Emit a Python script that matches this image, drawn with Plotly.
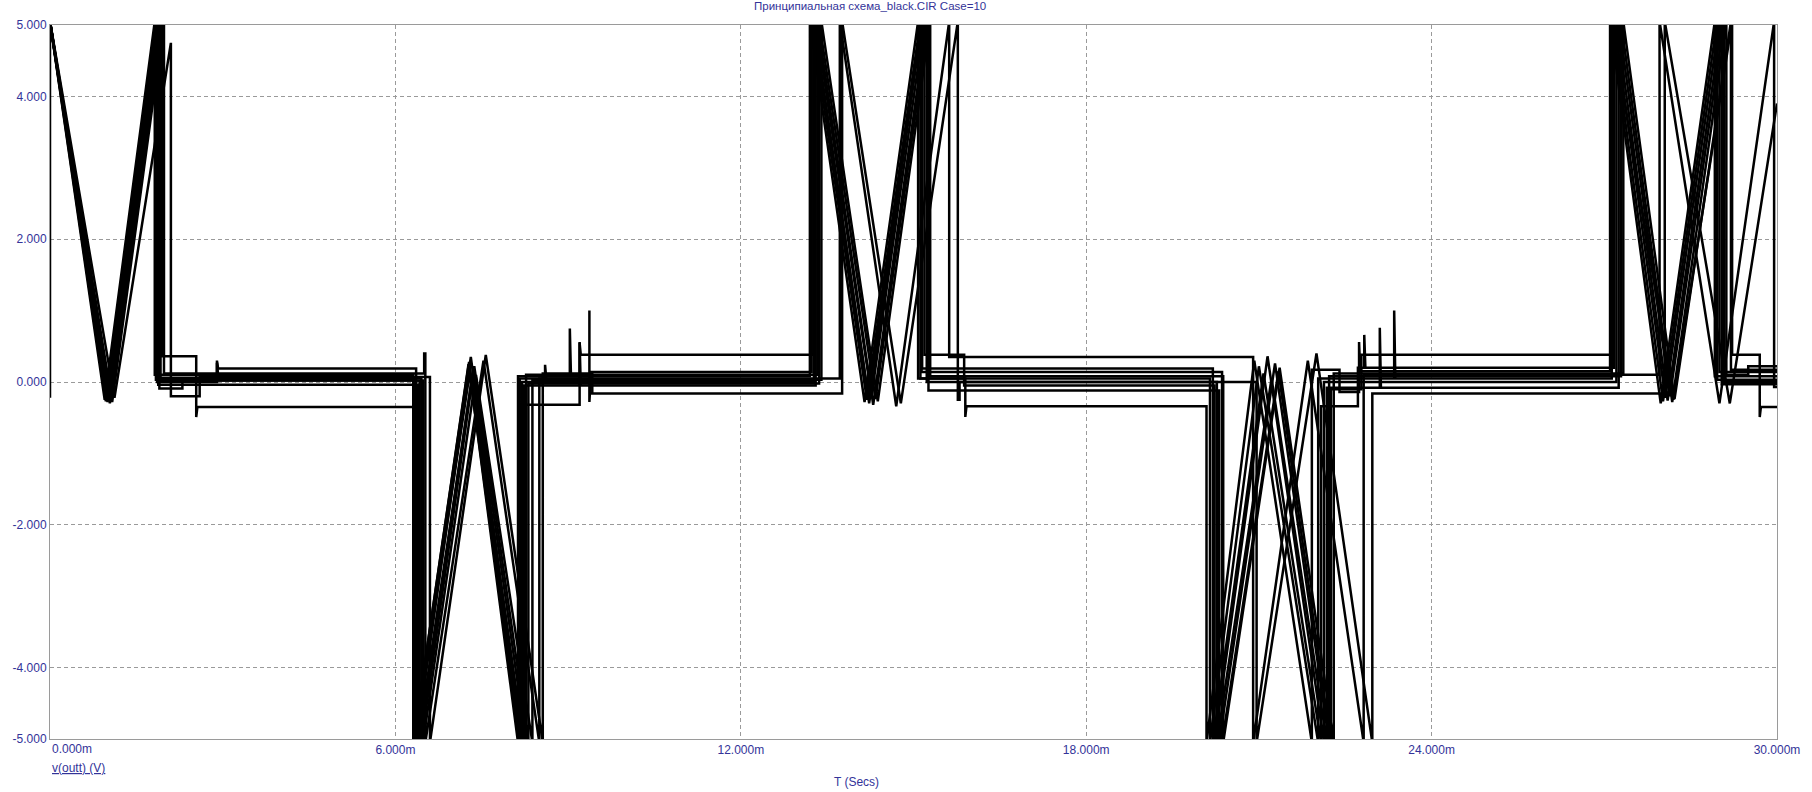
import plotly.graph_objects as go

# ---- data (time in ms, voltage in V) ----
CASE_01 = [(0.00, 5.05), (0.95, -0.25), (1.82, 5.05), (1.82, 0.10), (2.90, 0.10), (2.90, 0.27), (2.92, 0.10),
           (6.31, 0.10), (6.31, -5.05), (7.27, 0.25), (8.13, -5.05), (8.13, 0.08), (9.03, 0.08), (9.03, 0.75),
           (9.05, 0.08), (13.20, 0.08), (13.20, 5.05), (14.15, -0.28), (15.08, 5.05), (15.08, 0.05), (15.90, 0.05),
           (15.90, -0.49), (15.92, -0.34), (20.09, -0.34), (20.09, -5.05), (20.92, 0.30), (21.92, -5.05),
           (21.92, 0.17), (22.40, 0.17), (22.40, -0.14), (22.74, -0.14), (22.74, 0.56), (22.76, 0.15),
           (27.10, 0.15), (27.10, 5.05), (27.98, -0.30), (28.92, 5.05), (28.92, 0.08), (30.00, 0.08)]
CASE_02 = [(0.00, -0.22), (0.00, 5.05), (0.97, -0.27), (1.84, 5.05), (1.84, 0.03), (6.33, 0.03), (6.33, -5.05),
           (7.29, 0.12), (8.16, -5.05), (8.16, 0.05), (9.37, 0.05), (9.37, 1.00), (9.37, -0.28), (9.40, 0.14),
           (13.23, 0.14), (13.23, 5.05), (14.19, -0.25), (15.12, 5.05), (15.12, 0.05), (20.15, 0.05),
           (20.15, -5.05), (21.00, 0.22), (22.03, -5.05), (22.03, 0.05), (23.35, 0.05), (23.35, 1.00),
           (23.37, 0.05), (27.13, 0.05), (27.13, 5.05), (28.02, -0.27), (28.96, 5.05), (28.96, 0.03), (30.00, 0.03)]
CASE_03 = [(0.00, 5.05), (0.99, -0.22), (1.86, 5.05), (1.86, 0.00), (2.90, 0.00), (2.90, 0.30), (2.92, 0.19),
           (6.36, 0.19), (6.36, -5.05), (7.31, 0.35), (8.20, -5.05), (8.20, 0.00), (13.27, 0.00), (13.27, 5.05),
           (14.23, -0.30), (15.15, 5.05), (15.15, 0.19), (20.20, 0.19), (20.20, -5.05), (21.08, 0.12),
           (22.08, -5.05), (22.08, -0.34), (22.72, -0.34), (22.72, 0.20), (22.83, 0.20), (22.83, 0.66),
           (22.85, 0.20), (27.17, 0.20), (27.17, 5.05), (28.06, -0.22), (29.00, 5.05), (29.00, 0.14), (30.00, 0.14)]
CASE_04 = [(0.00, 5.05), (1.00, -0.28), (1.88, 5.05), (1.88, -0.04), (6.39, -0.04), (6.39, -5.05), (7.33, 0.05),
           (8.23, -5.05), (8.23, -0.05), (9.20, -0.05), (9.20, 0.56), (9.22, -0.05), (13.30, -0.05),
           (13.30, 5.05), (14.27, -0.20), (15.19, 5.05), (15.19, 0.38), (15.88, 0.38), (15.88, -0.05),
           (20.23, -0.05), (20.23, -5.05), (21.15, 0.36), (22.13, -5.05), (22.13, 0.00), (27.21, 0.00),
           (27.21, 5.05), (28.10, -0.26), (29.04, 5.05), (29.04, -0.03), (30.00, -0.03)]
CASE_05 = [(0.00, 5.05), (1.02, -0.24), (1.90, 5.05), (1.90, -0.09), (2.30, -0.09), (2.30, 0.02), (6.42, 0.02),
           (6.42, -5.05), (7.35, 0.18), (8.27, -5.05), (8.27, 0.10), (13.33, 0.10), (13.33, 5.05), (14.30, -0.32),
           (15.23, 5.05), (15.23, 0.00), (20.27, 0.00), (20.27, -5.05), (21.22, 0.05), (22.18, -5.05),
           (22.18, -0.08), (23.10, -0.08), (23.10, 0.76), (23.12, -0.08), (27.25, -0.08), (27.25, 5.05),
           (28.14, -0.20), (29.08, 5.05), (29.08, 0.00), (30.00, 0.00)]
CASE_06 = [(0.00, 5.05), (1.04, -0.30), (1.92, 5.05), (1.92, 0.06), (6.45, 0.06), (6.45, -5.05), (7.37, 0.22),
           (8.31, -5.05), (8.31, -0.02), (13.36, -0.02), (13.36, 5.05), (14.34, -0.24), (15.26, 5.05),
           (15.26, -0.12), (20.31, -0.12), (20.31, -5.05), (21.28, 0.26), (22.22, -5.05), (22.22, 0.08),
           (27.29, 0.08), (27.29, 5.05), (28.18, -0.28), (29.12, 5.05), (29.12, 0.10), (29.50, 0.10),
           (29.50, 0.22), (30.00, 0.22)]
CASE_07 = [(0.00, 5.05), (1.06, -0.26), (1.95, 5.05), (1.95, 0.36), (2.54, 0.36), (2.54, -0.49), (2.56, -0.35),
           (6.31, -0.35), (6.31, -5.05), (7.28, 0.28), (8.18, -5.05), (8.18, -0.32), (9.20, -0.32), (9.20, 0.55),
           (9.22, 0.38), (13.26, 0.38), (13.26, 5.05), (14.22, -0.22), (15.14, 5.05), (15.14, 0.14),
           (20.36, 0.14), (20.36, -5.05), (21.34, 0.15), (22.25, -5.05), (22.25, -0.10), (22.78, -0.10),
           (22.78, 0.38), (27.12, 0.38), (27.12, 5.05), (28.20, -0.25), (29.22, 5.05), (29.22, 0.38),
           (29.70, 0.38), (29.70, -0.49), (29.72, -0.35), (30.00, -0.35)]
CASE_08 = [(0.00, 5.05), (1.08, -0.28), (1.98, 5.05), (1.98, 0.12), (6.50, 0.12), (6.50, 0.40), (6.52, 0.40),
           (6.52, -5.05), (7.53, 0.30), (8.50, -5.05), (8.50, 0.05), (8.60, 0.05), (8.60, 0.24), (8.62, 0.05),
           (13.72, 0.05), (13.72, 5.05), (14.70, -0.34), (15.62, 5.05), (15.62, 0.35), (20.90, 0.35),
           (20.90, -5.05), (21.85, 0.30), (22.82, -5.05), (22.82, 0.10), (27.96, 0.10), (27.96, 5.05),
           (29.00, -0.30), (29.95, 5.05), (29.95, -0.07), (30.00, -0.07)]
CASE_09 = [(0.00, 5.05), (1.12, -0.22), (2.10, 4.75), (2.10, -0.20), (2.60, -0.20), (2.60, 0.07), (6.60, 0.07),
           (6.60, -5.05), (7.57, 0.38), (8.56, -5.05), (8.56, 0.12), (9.42, 0.12), (9.42, -0.16), (13.76, -0.16),
           (13.76, 5.05), (14.78, -0.30), (15.77, 5.05), (15.77, -0.25), (15.80, -0.25), (15.80, 0.00),
           (20.96, 0.00), (20.96, -5.05), (22.00, 0.40), (22.97, -5.05), (22.97, -0.16), (28.05, -0.16),
           (28.05, 5.05), (29.18, -0.30), (30.00, 3.90)]
CASE_10 = [(0.00, 5.05), (1.01, -0.25), (1.89, 5.05), (1.89, 0.02), (6.48, 0.02), (6.48, -5.05), (7.40, 0.10),
           (8.38, -5.05), (8.38, 0.03), (13.40, 0.03), (13.40, 5.05), (14.38, -0.27), (15.29, 5.05),
           (15.29, 0.08), (20.38, 0.08), (20.38, -5.05), (21.36, 0.20), (22.30, -5.05), (22.30, 0.12),
           (27.33, 0.12), (27.33, 5.05), (28.22, -0.24), (29.20, 5.05), (29.20, 0.17), (30.00, 0.17)]

CASES = [CASE_01, CASE_02, CASE_03, CASE_04, CASE_05, CASE_06, CASE_07, CASE_08, CASE_09, CASE_10]

X_TICKS = [6, 12, 18, 24, 30]
X_TICK_TEXT = ["6.000m", "12.000m", "18.000m", "24.000m", "30.000m"]
Y_TICKS = [-5, -4, -2, 0, 2, 4, 5]
Y_TICK_TEXT = ["-5.000", "-4.000", "-2.000", "0.000", "2.000", "4.000", "5.000"]

TITLE = "Принципиальная схема_black.CIR Case=10"
X_TITLE = "T (Secs)"
Y_NAME = "v(outt) (V)"

TXT = "#333399"
FONT = "Liberation Sans, Arial, sans-serif"

fig = go.Figure()
for case in CASES:
    fig.add_trace(go.Scatter(
        x=[p[0] for p in case], y=[p[1] for p in case],
        mode="lines", line=dict(color="#000000", width=2.5),
        showlegend=False, hoverinfo="skip"))

fig.update_layout(
    width=1812, height=792,
    margin=dict(l=50, r=27, t=25, b=53),
    paper_bgcolor="white", plot_bgcolor="white",
    font=dict(family=FONT, size=12, color=TXT),
    showlegend=False,
    annotations=[
        dict(text=TITLE, x=0.475, y=1.0266, xref="paper", yref="paper",
             xanchor="center", yanchor="middle", showarrow=False,
             font=dict(family=FONT, size=11.5, color=TXT)),
        dict(text=X_TITLE, x=0.467, y=-0.0602, xref="paper", yref="paper",
             xanchor="center", yanchor="middle", showarrow=False,
             font=dict(family=FONT, size=12, color=TXT)),
        dict(text="<u>" + Y_NAME + "</u>", x=0.0, y=-0.0406, xref="paper", yref="paper",
             xanchor="left", yanchor="middle", showarrow=False,
             font=dict(family=FONT, size=12, color=TXT)),
        dict(text="0.000m", x=0.0, y=-0.014, xref="paper", yref="paper",
             xanchor="left", yanchor="middle", showarrow=False,
             font=dict(family=FONT, size=12, color=TXT)),
    ],
)

fig.update_xaxes(
    range=[0, 30], tickvals=X_TICKS, ticktext=X_TICK_TEXT,
    showgrid=True, gridcolor="#9a9a9a", griddash="4px,3px", gridwidth=1,
    showline=True, linecolor="#9a9a9a", linewidth=1, mirror=True,
    zeroline=False, ticks="", tickfont=dict(family=FONT, size=12, color=TXT),
)
fig.update_yaxes(
    range=[-5, 5], tickvals=Y_TICKS, ticktext=Y_TICK_TEXT,
    showgrid=True, gridcolor="#9a9a9a", griddash="4px,3px", gridwidth=1,
    showline=True, linecolor="#9a9a9a", linewidth=1, mirror=True,
    zeroline=False, ticks="", tickfont=dict(family=FONT, size=12, color=TXT),
)

# remove the browser's default 8px body margin so the figure starts at the window corner
fig.write_html("out.html",
               config={"displayModeBar": False},
               post_script="document.body.style.margin='0';document.body.style.overflow='hidden';")
